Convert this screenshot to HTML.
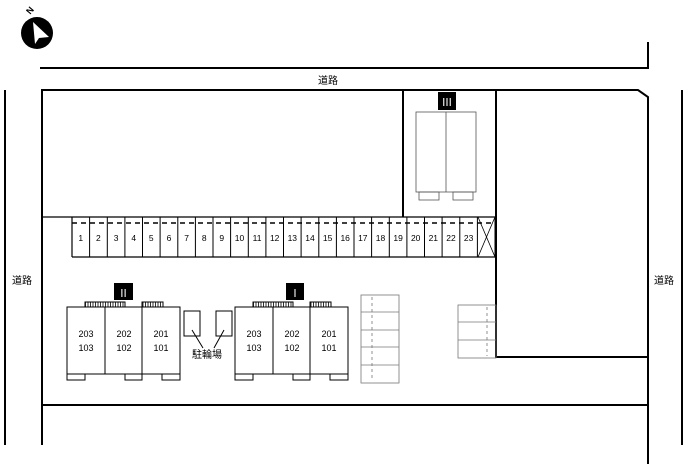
<!DOCTYPE html>
<html><head><meta charset="utf-8"><style>body{margin:0;background:#fff}svg{display:block}text{font-family:"Liberation Sans","Noto Sans CJK JP",sans-serif}</style></head><body>
<svg width="700" height="464" viewBox="0 0 700 464" xmlns="http://www.w3.org/2000/svg">
<defs>
<pattern id="h" width="2.5" height="5" patternUnits="userSpaceOnUse"><line x1="0.5" y1="0" x2="0.5" y2="5" stroke="#000" stroke-width="0.8"/></pattern>
</defs>
<circle cx="37" cy="33" r="16" fill="#000"/>
<polygon points="33,22 49,37 39,38 35,44" fill="#fff"/>
<text x="28" y="16" font-size="9" font-weight="bold" transform="rotate(-50 28 13)">N</text>
<g stroke="#000" stroke-width="2" fill="none">
<path d="M40 68H648V42"/>
<path d="M5 90V445M682 90V445"/>
<path d="M42 445V90H638L648 97V464"/>
<path d="M42 405H648"/>
<path d="M403 90V217M496 90V357H648"/>
</g>
<text x="318" y="84" font-size="10">道路</text>
<text x="12" y="284" font-size="10">道路</text>
<text x="654" y="284" font-size="10">道路</text>
<g stroke="#000" stroke-width="1.2" fill="none">
<path d="M42 217H496M72 257H496"/>
<path d="M72 217V257"/>
</g>
<line x1="72" y1="223" x2="495" y2="223" stroke="#000" stroke-width="1.5" stroke-dasharray="5,4"/>
<path d="M478 217L495 257M495 217L478 257" stroke="#000" stroke-width="0.8"/>
<rect x="438" y="92" width="18" height="18" fill="#000"/>
<text x="447" y="106" font-size="11" fill="#fff" text-anchor="middle" font-family="Liberation Serif">Ⅲ</text>
<g stroke="#555" stroke-width="0.8" fill="none">
<rect x="416" y="112" width="60" height="80"/><path d="M446 112V192"/>
<rect x="419" y="192" width="20" height="8"/><rect x="453" y="192" width="20" height="8"/>
</g>
<g id="b2" stroke="#000" stroke-width="1" fill="none">
<rect x="67" y="307" width="113" height="67"/><path d="M105 307V374M142 307V374"/>
<rect x="67" y="374" width="18" height="6"/><rect x="125" y="374" width="17" height="6"/><rect x="162" y="374" width="18" height="6"/>
<rect x="85" y="302" width="40" height="5" fill="url(#h)"/><rect x="142" y="302" width="21" height="5" fill="url(#h)"/>
</g>
<use href="#b2" x="168"/>
<rect x="114" y="283" width="19" height="17" fill="#000"/>
<text x="123.5" y="297" font-size="11" fill="#fff" text-anchor="middle" font-family="Liberation Serif">Ⅱ</text>
<rect x="286" y="283" width="18" height="17" fill="#000"/>
<text x="295" y="297" font-size="11" fill="#fff" text-anchor="middle" font-family="Liberation Serif">Ⅰ</text>
<g font-size="9" text-anchor="middle">
<text x="86" y="337">203</text><text x="86" y="351">103</text>
<text x="124" y="337">202</text><text x="124" y="351">102</text>
<text x="161" y="337">201</text><text x="161" y="351">101</text>
<text x="254" y="337">203</text><text x="254" y="351">103</text>
<text x="292" y="337">202</text><text x="292" y="351">102</text>
<text x="329" y="337">201</text><text x="329" y="351">101</text>
</g>
<g stroke="#000" stroke-width="1" fill="none">
<rect x="184" y="311" width="16" height="25"/><rect x="216" y="311" width="16" height="25"/>
<path d="M192 330L203 348M224 330L214 348"/>
</g>
<text x="207" y="358" font-size="10" text-anchor="middle">駐輪場</text>
<g stroke="#777" stroke-width="0.8" fill="none">
<rect x="361" y="295" width="38" height="88"/>
<path d="M361 312H399M361 330H399M361 347H399M361 365H399"/>
<path d="M372 297V381" stroke-dasharray="3,3"/>
<rect x="458" y="305" width="38" height="53"/>
<path d="M458 322H496M458 340H496"/>
<path d="M487 307V356" stroke-dasharray="3,3"/>
</g>
<g stroke="#000" stroke-width="1">
<path d="M89.6 217V257M107.3 217V257M124.9 217V257M142.5 217V257M160.1 217V257M177.8 217V257M195.4 217V257M213 217V257M230.6 217V257M248.3 217V257M265.9 217V257M283.5 217V257M301.1 217V257M318.8 217V257M336.4 217V257M354 217V257M371.6 217V257M389.3 217V257M406.9 217V257M424.5 217V257M442.1 217V257M459.8 217V257M477.4 217V257M495 217V257"/>
</g>
<g font-size="8.5" text-anchor="middle">
<text x="80.8" y="241">1</text><text x="98.4" y="241">2</text><text x="116.1" y="241">3</text><text x="133.7" y="241">4</text><text x="151.3" y="241">5</text><text x="169" y="241">6</text><text x="186.6" y="241">7</text><text x="204.2" y="241">8</text><text x="221.8" y="241">9</text><text x="239.5" y="241">10</text><text x="257.1" y="241">11</text><text x="274.7" y="241">12</text><text x="292.3" y="241">13</text><text x="310" y="241">14</text><text x="327.6" y="241">15</text><text x="345.2" y="241">16</text><text x="362.8" y="241">17</text><text x="380.5" y="241">18</text><text x="398.1" y="241">19</text><text x="415.7" y="241">20</text><text x="433.3" y="241">21</text><text x="451" y="241">22</text><text x="468.6" y="241">23</text>
</g>
</svg>
</body></html>
